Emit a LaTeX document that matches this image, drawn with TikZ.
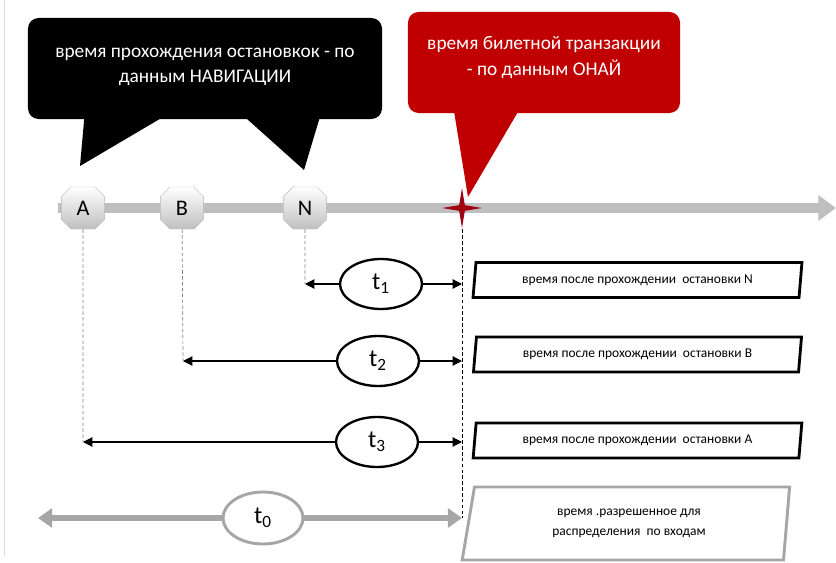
\documentclass[tikz,border=0pt]{standalone}
\usepackage{fontspec}
\setmainfont{Carlito}
\usetikzlibrary{shapes.geometric,shapes.misc,arrows.meta}
\definecolor{onayred}{RGB}{192,0,0}
\definecolor{starred}{RGB}{160,0,16}
\definecolor{axisgray}{RGB}{191,191,191}
\definecolor{framegray}{RGB}{166,166,166}
\tikzset{
  callout/.style={rectangle, rounded corners=9pt, inner sep=0pt, minimum height=3.03cm},
  callouttext/.style={text=white, align=center, font=\fontsize{16.5}{21.5}\selectfont},
  axis/.style={draw=axisgray, line width=7.7pt, -{Triangle[length=15pt,width=21pt]}},
  stopbox/.style={chamfered rectangle, chamfered rectangle xsep=5pt, minimum width=1.3cm,
    minimum height=1.26cm, inner sep=0pt, top color=white, bottom color=gray!50,
    draw=gray!55, font=\fontsize{19}{19}\selectfont},
  tnode/.style={ellipse, draw, line width=2pt, fill=white, minimum width=2.46cm,
    minimum height=1.5cm, inner sep=0pt, font=\fontsize{21}{21}\selectfont},
  notebox/.style={trapezium, trapezium left angle=79, trapezium right angle=101,
    trapezium stretches=true, draw, line width=2.4pt, minimum width=9.87cm,
    minimum height=1.05cm, inner sep=0pt, align=center, font=\fontsize{11.5}{17}\selectfont},
  timespan/.style={line width=1pt, -{Triangle[length=8pt,width=8pt]}},
  grayspan/.style={draw=framegray, line width=5pt, -{Triangle[length=12pt,width=16pt]}},
  dropline/.style={densely dashed, line width=0.6pt},
}
\begin{document}
\begin{tikzpicture}[x=0.03cm, y=-0.03cm]
  \useasboundingbox (0,0) rectangle (836,563);
  \draw[gray!30] (4,0) -- (4,556);

  % callouts
  \node[callout, fill=black, minimum width=10.62cm] (navbox) at (205,68.5) {};
  \fill[black] (85,110) -- (80,166) -- (175,110) -- cycle;
  \fill[black] (237,110) -- (304,170) -- (322,110) -- cycle;
  \node[callouttext] (navtext) at (205,66.5) {время прохождения остановкок - по\\данным НАВИГАЦИИ};
  \node[callout, fill=onayred, minimum width=8.16cm] (onaybox) at (544,62.5) {};
  \fill[onayred] (453,105) -- (468,197) -- (522,105) -- cycle;
  \node[callouttext, font=\fontsize{16.5}{23}\selectfont] (onaytext) at (544,57.5) {время билетной транзакции\\- по данным ОНАЙ};

  % time axis
  \coordinate (axstart) at (58,208);
  \coordinate (axend) at (836,208);
  \draw[axis] (axstart) -- (axend);
  \node[stopbox] (A) at (83,208) {A};
  \node[stopbox] (B) at (182,208) {B};
  \node[stopbox] (N) at (305,208) {N};
  \node[star, star points=4, star point ratio=5, minimum size=1.2cm, inner sep=0pt,
    fill=starred] (tx) at (462,208) {};

  % intervals
  \coordinate (n1) at (305,284);
  \coordinate (e1) at (462,284);
  \coordinate (n2) at (183,361);
  \coordinate (e2) at (462,361);
  \coordinate (n3) at (83,442);
  \coordinate (e3) at (462,442);
  \coordinate (w0) at (38,518);
  \coordinate (e0) at (462,518);
  \node[tnode] (t1) at (381,284) {t\textsubscript{1}};
  \node[tnode] (t2) at (378,361) {t\textsubscript{2}};
  \node[tnode] (t3) at (377,442) {t\textsubscript{3}};
  \node[tnode, draw=framegray, line width=2.5pt, minimum width=2.4cm, minimum height=1.56cm] (t0) at (263,518) {t\textsubscript{0}};

  \draw[dropline, gray] (N) -- (n1);
  \draw[dropline, gray] (B) -- (n2);
  \draw[dropline, gray] (A) -- (n3);
  \draw[dropline] (tx) -- (e0);
  \draw[timespan] (t1) -- (n1);
  \draw[timespan] (t1) -- (e1);
  \draw[timespan] (t2) -- (n2);
  \draw[timespan] (t2) -- (e2);
  \draw[timespan] (t3) -- (n3);
  \draw[timespan] (t3) -- (e3);
  \draw[grayspan] (t0) -- (w0);
  \draw[grayspan] (t0) -- (e0);

  % notes
  \node[notebox] (pN) at (637.5,280) {время после прохождении~ остановки N};
  \node[notebox] (pB) at (637.5,354.5) {время после прохождении~ остановки B};
  \node[notebox] (pA) at (637.5,440.5) {время после прохождении~ остановки A};
  \node[notebox, draw=framegray, line width=2.5pt, trapezium left angle=78,
    trapezium right angle=96, minimum width=9.84cm, minimum height=2.19cm] (p0) at (629,523.5)
    {время .разрешенное для\\распределения~ по входам};
\end{tikzpicture}
\end{document}
